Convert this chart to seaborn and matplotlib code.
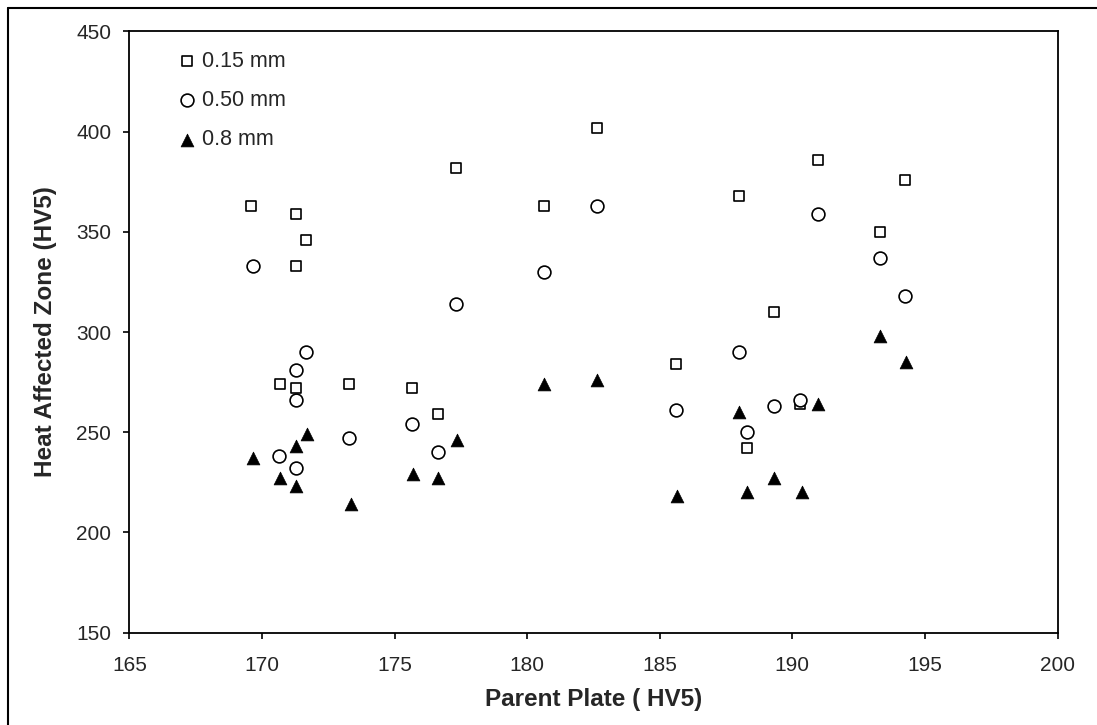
import matplotlib
matplotlib.use("Agg")
import matplotlib.pyplot as plt
import seaborn as sns
import pandas as pd
from matplotlib.lines import Line2D

# 0.15 mm series
x_015 = [169.6, 171.3, 171.65, 171.3, 177.3, 170.7, 171.3, 173.3, 175.65, 176.65,
         182.65, 180.65, 188.0, 189.3, 185.6, 188.3, 190.95, 194.25, 193.3, 190.3]
y_015 = [363, 359, 346, 333, 382, 274, 272, 274, 272, 259,
         402, 363, 368, 310, 284, 242, 386, 376, 350, 264]

# 0.50 mm series
x_050 = [169.65, 177.3, 171.65, 171.3, 171.3, 173.3, 170.65, 171.3, 175.65, 176.65,
         182.65, 180.65, 188.0, 185.6, 189.3, 188.3, 190.95, 193.3, 194.25, 190.3]
y_050 = [333, 314, 290, 281, 266, 247, 238, 232, 254, 240,
         363, 330, 290, 261, 263, 250, 359, 337, 318, 266]

# 0.8 mm series
x_08 = [171.7, 171.3, 169.65, 170.7, 171.3, 173.35, 177.35, 175.7, 176.65, 180.65,
        182.65, 188.0, 189.3, 188.3, 185.65, 193.3, 194.3, 190.95, 190.35]
y_08 = [249, 243, 237, 227, 223, 214, 246, 229, 227, 274,
        276, 260, 227, 220, 218, 298, 285, 264, 220]

labels = ["0.15 mm", "0.50 mm", "0.8 mm"]

df_015 = pd.DataFrame({"x": x_015, "y": y_015})
df_050 = pd.DataFrame({"x": x_050, "y": y_050})
df_08 = pd.DataFrame({"x": x_08, "y": y_08})

sns.set_style("white")
plt.rcParams["font.family"] = ["Liberation Sans", "DejaVu Sans"]

fig = plt.figure(figsize=(10.97, 7.25), dpi=100)
ax = fig.add_axes([0.1179, 0.1274, 0.8461, 0.8292])

sns.scatterplot(data=df_015, x="x", y="y", marker="s", s=42, facecolor="white",
                edgecolor="black", linewidth=1.2, label=labels[0], ax=ax)
sns.scatterplot(data=df_050, x="x", y="y", marker="o", s=85, facecolor="white",
                edgecolor="black", linewidth=1.2, label=labels[1], ax=ax)
sns.scatterplot(data=df_08, x="x", y="y", marker="^", s=85, color="black",
                edgecolor="black", linewidth=0.5, label=labels[2], ax=ax)

ax.set_xlim(165, 200)
ax.set_ylim(150, 450)
ax.set_xticks(range(165, 201, 5))
ax.set_yticks(range(150, 451, 50))
ax.tick_params(axis="both", direction="out", length=4, width=1.2, color="black",
               labelsize=15, bottom=True, left=True)
ax.tick_params(axis="x", pad=13)
ax.tick_params(axis="y", pad=9)
for sp in ax.spines.values():
    sp.set_color("black")
    sp.set_linewidth(1.3)

ax.set_xlabel("Parent Plate ( HV5)", fontsize=17.5, fontweight="bold", labelpad=9)
ax.set_ylabel("Heat Affected Zone (HV5)", fontsize=17.5, fontweight="bold", labelpad=14)

leg = ax.legend(loc="upper left", bbox_to_anchor=(0.053, 0.968), frameon=False,
                fontsize=15.5, handlelength=0.8, handletextpad=0.3, labelspacing=0.85,
                borderaxespad=0, borderpad=0)

# outer chart border (left and top edges visible)
fig.add_artist(Line2D([7.5 / 1097, 7.5 / 1097], [0, 1 - 7.5 / 725], transform=fig.transFigure,
                      color="black", linewidth=1.5))
fig.add_artist(Line2D([7.5 / 1097, 1], [1 - 7.5 / 725, 1 - 7.5 / 725], transform=fig.transFigure,
                      color="black", linewidth=1.5))

fig.savefig("out.png", dpi=100)
plt.close(fig)
